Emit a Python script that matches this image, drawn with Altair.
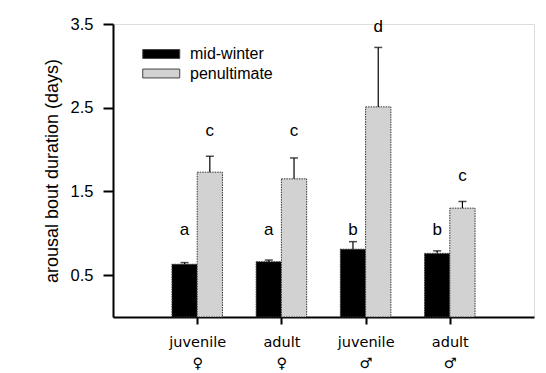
import altair as alt
import pandas as pd

groups = ["juvenile ♀", "adult ♀", "juvenile ♂", "adult ♂"]
group_pos = [1, 2, 3, 4]
mid_winter = [0.63, 0.66, 0.81, 0.76]
mid_err = [0.02, 0.02, 0.09, 0.03]
penultimate = [1.73, 1.65, 2.51, 1.30]
pen_err = [0.19, 0.25, 0.71, 0.08]
mid_letters = ["a", "a", "b", "b"]
mid_letter_y = [1.04, 1.04, 1.04, 1.04]
pen_letters = ["c", "c", "d", "c"]
pen_letter_y = [2.22, 2.22, 3.47, 1.69]
series = ["mid-winter", "penultimate"]

FONT = "Liberation Sans"
HALF = 0.3

rows = []
for i, g in enumerate(groups):
    p = group_pos[i]
    rows.append(dict(group=g, series=series[0], x0=p - HALF, x1=p, xc=p - HALF / 2,
                     value=mid_winter[i], top=mid_winter[i] + mid_err[i],
                     letter=mid_letters[i], ly=mid_letter_y[i]))
    rows.append(dict(group=g, series=series[1], x0=p, x1=p + HALF, xc=p + HALF / 2,
                     value=penultimate[i], top=penultimate[i] + pen_err[i],
                     letter=pen_letters[i], ly=pen_letter_y[i]))
df = pd.DataFrame(rows)

label_expr = ("datum.value == 1 ? ['juvenile', '♀'] : datum.value == 2 ? ['adult', '♀'] : "
              "datum.value == 3 ? ['juvenile', '♂'] : datum.value == 4 ? ['adult', '♂'] : ''")

xscale = alt.Scale(domain=[0, 5], nice=False, zero=False)
yscale = alt.Scale(domain=[0, 3.5], nice=False)

xaxis = alt.Axis(values=group_pos, labelExpr=label_expr, title=None, grid=False,
                 domainColor="black", domainWidth=2, tickColor="black", tickWidth=2,
                 tickSize=7, labelFont="DejaVu Sans", labelFontSize=14.5, labelColor="black",
                 labelPadding=11, labelLineHeight=21)
yaxis = alt.Axis(values=[0.5, 1.5, 2.5, 3.5], format=".1f", title="arousal bout duration (days)",
                 grid=False, domainColor="black", domainWidth=2, tickColor="black", tickWidth=2,
                 tickSize=10, labelFont=FONT, labelFontSize=16.5, labelColor="black", labelPadding=10,
                 titleFont=FONT, titleFontSize=18, titleFontWeight="normal", titleColor="black",
                 titlePadding=9)

color = alt.Color("series:N", scale=alt.Scale(domain=series, range=["black", "#d2d2d2"]),
                  legend=alt.Legend(title=None, orient="none", legendX=29, legendY=20,
                                    symbolType="M-1,-0.48H3V0.48H-1Z", symbolSize=342,
                                    symbolStrokeColor="#444", symbolStrokeWidth=1,
                                    labelFont=FONT, labelFontSize=16, labelColor="black",
                                    labelOffset=28, rowPadding=1.5, padding=0))

bars = alt.Chart(df).mark_bar(stroke="#333", strokeWidth=1, strokeDash=[1.5, 1]).encode(
    x=alt.X("x0:Q", scale=xscale, axis=xaxis),
    x2="x1:Q",
    y=alt.Y("value:Q", scale=yscale, axis=yaxis),
    y2=alt.datum(0),
    color=color,
)

err = alt.Chart(df).mark_rule(color="black", strokeWidth=1.2).encode(
    x=alt.X("xc:Q", scale=xscale), y=alt.Y("value:Q", scale=yscale), y2="top:Q")

caps = alt.Chart(df).mark_tick(color="black", orient="horizontal", size=8, thickness=1.5).encode(
    x=alt.X("xc:Q", scale=xscale), y=alt.Y("top:Q", scale=yscale))

letters = alt.Chart(df).mark_text(font=FONT, fontSize=17, color="black", baseline="middle").encode(
    x=alt.X("xc:Q", scale=xscale), y=alt.Y("ly:Q", scale=yscale), text="letter:N")

chart = alt.layer(bars, err, caps, letters).properties(
    width=421, height=293,
    autosize=alt.AutoSizeParams(type="none"),
    padding={"left": 105, "top": 16, "right": 4, "bottom": 57},
).configure_view(stroke=None).configure(background="white")

chart.save("out.html", embed_options={"renderer": "svg", "actions": False})
